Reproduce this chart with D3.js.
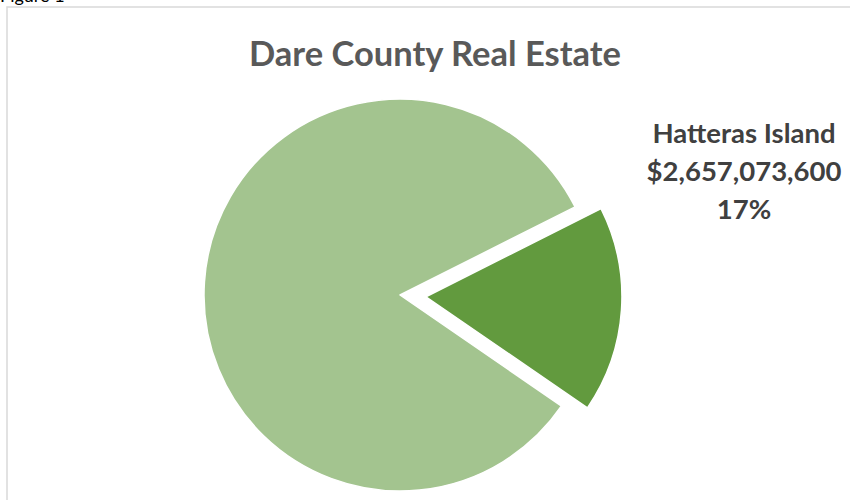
<!DOCTYPE html>
<html>
<head>
<meta charset="utf-8">
<script src="https://cdn.jsdelivr.net/npm/d3@7/dist/d3.min.js"></script>
<style>
  html, body { margin: 0; padding: 0; background: #fff; }
  svg { display: block; }
</style>
</head>
<body>
<svg id="chart" width="850" height="500"></svg>
<script>
// ---- data ----
const categories = ["Hatteras Island", "Rest of Dare County"];
const values = [2657073600, 12970000000];
const labelCategory = "Hatteras Island";
const labelValueText = "$2,657,073,600";
const labelPctText = "17%";
const title = "Dare County Real Estate";
const figureCaption = "Figure 1";

// ---- layout ----
const W = 850, H = 500;
const cx = 400, cy = 295, R = 196;
const explode = 26;
const startDeg = 63.3;
const colors = ["#629A3E", "#A3C48F"];

const svg = d3.select("#chart");
const font = "Lato, 'Open Sans', sans-serif";

// figure caption (cut off at top, as in the source)
svg.append("text")
  .attr("x", 0).attr("y", 2)
  .attr("font-family", font)
  .attr("font-size", 18)
  .attr("fill", "#000")
  .text(figureCaption);

// chart border
svg.append("rect")
  .attr("x", 7).attr("y", 7)
  .attr("width", W + 20).attr("height", H + 20)
  .attr("fill", "#fff")
  .attr("stroke", "#D9D9D9")
  .attr("stroke-width", 1.5);

// title
svg.append("text")
  .attr("x", 435).attr("y", 66)
  .attr("text-anchor", "middle")
  .attr("font-family", font)
  .attr("font-weight", "bold")
  .attr("font-size", 34.5)
  .attr("fill", "#595959")
  .text(title);

// pie
const pie = d3.pie().sort(null)
  .startAngle(startDeg * Math.PI / 180)
  .endAngle(startDeg * Math.PI / 180 + 2 * Math.PI);
const arcs = pie(values);
const arc = d3.arc().innerRadius(0).outerRadius(R);
const color = d3.scaleOrdinal().domain(categories).range(colors);

const g = svg.append("g").attr("transform", `translate(${cx},${cy})`);
g.selectAll("path")
  .data(arcs)
  .join("path")
  .attr("d", arc)
  .attr("fill", (d, i) => color(categories[i]))
  .attr("stroke", "#fff")
  .attr("stroke-width", 1.5)
  .attr("stroke-linejoin", "round")
  .attr("transform", (d, i) => {
    if (categories[i] !== labelCategory) return null;
    const mid = (d.startAngle + d.endAngle) / 2;
    return `translate(${Math.sin(mid) * explode},${-Math.cos(mid) * explode})`;
  });

// data label
const lab = svg.append("text")
  .attr("text-anchor", "middle")
  .attr("font-family", font)
  .attr("font-weight", "bold")
  .attr("font-size", 27.5)
  .attr("fill", "#404040");
[labelCategory, labelValueText, labelPctText].forEach((t, i) => {
  lab.append("tspan").attr("x", 744).attr("y", 143 + i * 38).text(t);
});
</script>
</body>
</html>
